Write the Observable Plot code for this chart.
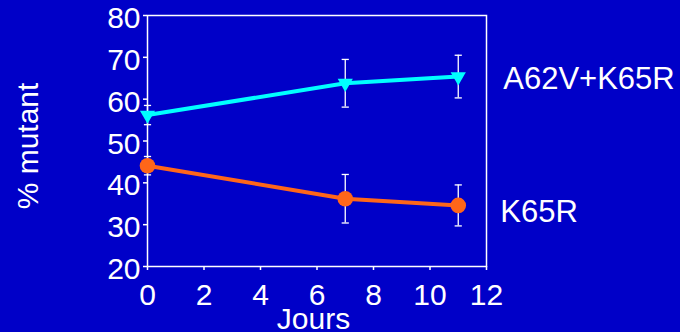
<!DOCTYPE html>
<html>
<head>
<meta charset="utf-8">
<script src="https://cdn.jsdelivr.net/npm/d3@7"></script>
<script src="https://cdn.jsdelivr.net/npm/@observablehq/plot@0.6"></script>
<style>
  html, body { margin: 0; padding: 0; background: #0000C8; }
  #chart { width: 680px; height: 332px; }
</style>
</head>
<body>
<div id="chart"></div>
<script>
// ---- data ----
const days = [0, 7, 11];
const a62vMean = [56.2, 63.8, 65.4];
const a62vErr  = [2.3, 5.7, 5.1];
const k65rMean = [44.1, 36.2, 34.6];
const k65rErr  = [2.2, 5.8, 4.9];
const seriesNames = ["A62V+K65R", "K65R"];
const xTicks = [0, 2, 4, 6, 8, 10, 12];
const yTicks = [20, 30, 40, 50, 60, 70, 80];
const xLabel = "Jours";
const yLabel = "% mutant";

// ---- tidy table ----
const rows = [];
days.forEach((d, i) => rows.push({series: seriesNames[0], day: d, v: a62vMean[i], lo: a62vMean[i] - a62vErr[i], hi: a62vMean[i] + a62vErr[i]}));
days.forEach((d, i) => rows.push({series: seriesNames[1], day: d, v: k65rMean[i], lo: k65rMean[i] - k65rErr[i], hi: k65rMean[i] + k65rErr[i]}));
const caps = rows.flatMap(r => [{day: r.day, y: r.lo}, {day: r.day, y: r.hi}]);
const lastPts = seriesNames.map(s => rows.filter(r => r.series === s).slice(-1)[0]);

const colors = {"A62V+K65R": "#00FFFF", "K65R": "#FF6619"};

// custom symbols
const triDown = {
  draw(ctx, size) {
    const r = Math.sqrt(size / Math.PI);
    const w = r * 1.9, h = r * 1.65;
    ctx.moveTo(-w / 2, -h / 3);
    ctx.lineTo(w / 2, -h / 3);
    ctx.lineTo(0, 2 * h / 3);
    ctx.closePath();
  }
};
const capSym = {
  draw(ctx, size) {
    const r = Math.sqrt(size / Math.PI);
    ctx.moveTo(-r, 0);
    ctx.lineTo(r, 0);
  }
};

const font = "'Liberation Sans', Arial, sans-serif";

const chart = Plot.plot({
  width: 680,
  height: 332,
  marginLeft: 147,
  marginRight: 194,
  marginTop: 15,
  marginBottom: 66,
  style: {background: "#0000C8", color: "white", fontFamily: font},
  x: {domain: [0, 12]},
  y: {domain: [20, 80]},
  marks: [
    Plot.frame({stroke: "white", strokeWidth: 1.5}),
    Plot.axisX({ticks: xTicks, tickSize: 4, tickPadding: 13, fontSize: 30, stroke: "white", strokeWidth: 1.5, label: null}),
    Plot.axisY({ticks: yTicks, tickSize: 4, tickFormat: () => "", stroke: "white", strokeWidth: 1.5, label: null}),
    Plot.axisY({ticks: yTicks, tickSize: 0, tickPadding: 7, dy: 3, fontSize: 30, label: null}),
    Plot.ruleX(rows, {x: "day", y1: "lo", y2: "hi", stroke: "white", strokeWidth: 1.3}),
    Plot.dot(caps, {x: "day", y: "y", symbol: capSym, r: 3.6, stroke: "white", strokeWidth: 1.3, fill: "none"}),
    Plot.line(rows, {x: "day", y: "v", z: "series", stroke: d => colors[d.series], strokeWidth: 4}),
    Plot.dot(rows.filter(r => r.series === seriesNames[0]), {x: "day", y: "v", symbol: triDown, r: 8, fill: colors[seriesNames[0]], stroke: "none"}),
    Plot.dot(rows.filter(r => r.series === seriesNames[1]), {x: "day", y: "v", symbol: "circle", r: 7.8, fill: colors[seriesNames[1]], stroke: "none"}),
    Plot.text([lastPts[0]], {x: "day", y: "v", text: "series", dx: 45, dy: 3, textAnchor: "start", fontSize: 31, fill: "white", style: "letter-spacing:1.2px"}),
    Plot.text([lastPts[1]], {x: "day", y: "v", text: "series", dx: 42, dy: 7, textAnchor: "start", fontSize: 31, fill: "white"}),
    Plot.text([xLabel], {frameAnchor: "bottom", text: d => d, dx: -3.5, dy: 41, lineAnchor: "top", textAnchor: "middle", fontSize: 30, fill: "white"}),
    Plot.text([yLabel], {frameAnchor: "left", text: d => d, rotate: -90, dx: -119, dy: 5, lineAnchor: "middle", textAnchor: "middle", fontSize: 30, fill: "white"})
  ]
});
document.getElementById("chart").appendChild(chart);
</script>
</body>
</html>
